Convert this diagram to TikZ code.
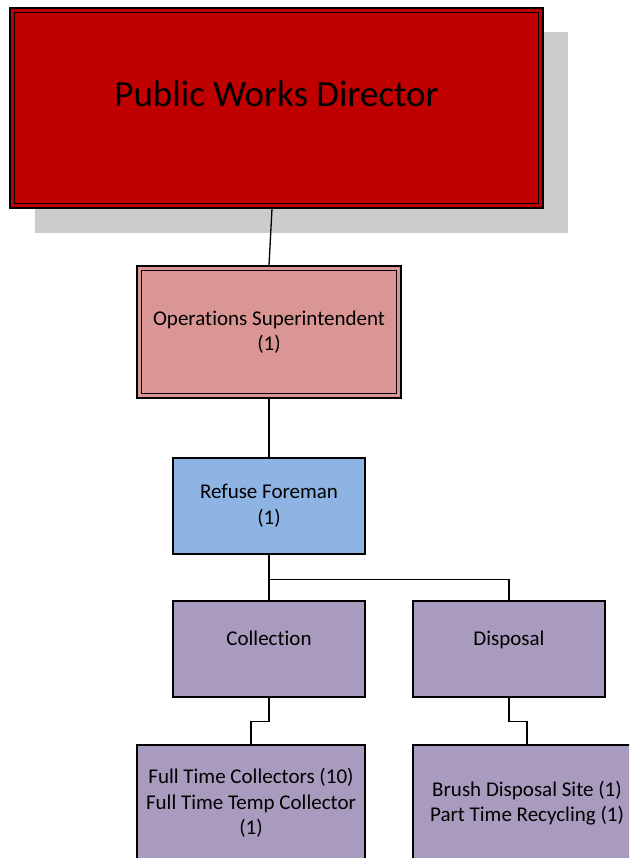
\documentclass[tikz,border=0pt]{standalone}
\usepackage{fontspec}
\setmainfont{Carlito}[Ligatures=NoCommon]
\definecolor{dirred}{HTML}{C00000}
\definecolor{shadowgray}{HTML}{CCCCCC}
\definecolor{opspink}{HTML}{D99694}
\definecolor{forblue}{HTML}{8EB4E3}
\definecolor{unitpurple}{HTML}{A99BBE}
\tikzset{
  x=1pt, y=-1pt,
  boxbase/.style={draw=black, rectangle, inner sep=0pt, align=center,
    font=\fontsize{21}{25.6}\selectfont},
  unitbox/.style={boxbase, line width=1.4pt, fill=unitpurple},
  link/.style={draw=black, line width=1.3pt},
  innerframe/.style={draw=black, line width=1.8pt},
  captext/.style={anchor=base, inner sep=0pt, font=\fontsize{21}{25.6}\selectfont},
}
\begin{document}
\begin{tikzpicture}
\useasboundingbox (0,0) rectangle (629,858);
\clip (0,0) rectangle (629,858);

% director box with drop shadow and double frame
\fill[shadowgray] (35,32) rectangle (568,233);
\node[boxbase, line width=1.1pt, fill=dirred, minimum width=533pt, minimum height=200pt]
  (dir) at (276.5,108) {};
\draw[innerframe] ([shift={(5,5)}]dir.north west) rectangle ([shift={(-5,-5)}]dir.south east);
\node[anchor=base, font=\fontsize{37}{44}\selectfont, inner sep=0pt] (dirtext) at (276.5,107) {Public Works Director};

% operations superintendent, double frame
\node[boxbase, line width=1.1pt, fill=opspink, minimum width=264pt, minimum height=132pt]
  (ops) at (269,332) {Operations Superintendent\\(1)};
\draw[innerframe] ([shift={(5,5)}]ops.north west) rectangle ([shift={(-5,-5)}]ops.south east);

% refuse foreman
\node[boxbase, line width=1.4pt, fill=forblue, minimum width=192pt, minimum height=96pt]
  (ref) at (269,506) {Refuse Foreman\\(1)};

% divisions
\node[unitbox, minimum width=192pt, minimum height=96pt] (col) at (269,649) {};
\node[captext] (coltext) at (269,645) {Collection};
\node[unitbox, minimum width=192pt, minimum height=96pt] (dis) at (509,649) {};
\node[captext] (distext) at (509,645) {Disposal};

% staff boxes
\node[unitbox, minimum width=228pt, minimum height=116pt] (ft) at (251,803)
  {Full Time Collectors (10)\\Full Time Temp Collector\\(1)};
\node[unitbox, minimum width=228pt, minimum height=116pt] (br) at (527,803)
  {Brush Disposal Site (1)\\Part Time Recycling (1)};

% connectors
\draw[link] ([xshift=-4.5pt]dir.south) -- (ops.north);
\draw[link] (ops.south) -- (ref.north);
\draw[link] (ref.south) -- ++(0,25) coordinate (bus) -- (col.north);
\draw[link] (bus) -| (dis.north);
\draw[link] (col.south) -- ++(0,24) -| (ft.north);
\draw[link] (dis.south) -- ++(0,24) -| (br.north);
\end{tikzpicture}
\end{document}
